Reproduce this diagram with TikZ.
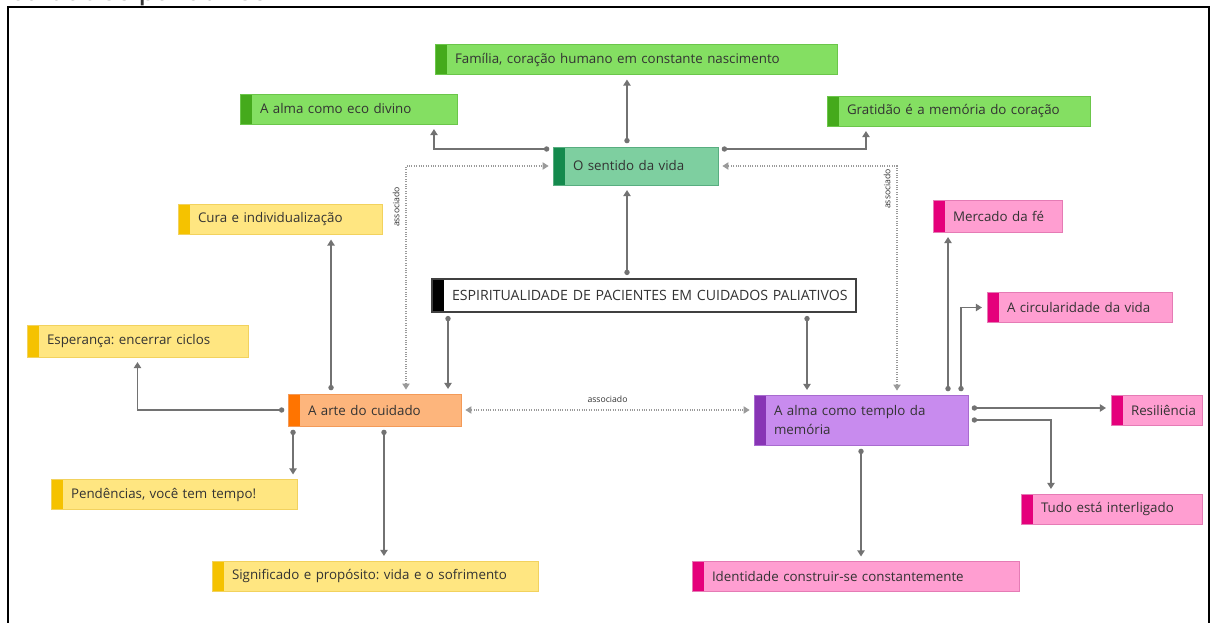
\documentclass[tikz,border=0pt]{standalone}
\usepackage{fontspec}
\setmainfont{Open Sans}
\newfontfamily\titlefont{Carlito}
\frenchspacing
\usetikzlibrary{arrows.meta, positioning}
\definecolor{leafgreen}{HTML}{84DF62}
\definecolor{leafline}{HTML}{6BC64A}
\definecolor{leafdark}{HTML}{45AA1C}
\definecolor{mintfill}{HTML}{7ECFA0}
\definecolor{mintline}{HTML}{58AD80}
\definecolor{mintdark}{HTML}{148A4D}
\definecolor{sunfill}{HTML}{FFE681}
\definecolor{sunline}{HTML}{F2D25E}
\definecolor{sundark}{HTML}{F5C200}
\definecolor{peachfill}{HTML}{FDB57C}
\definecolor{peachline}{HTML}{F39A58}
\definecolor{peachdark}{HTML}{FF7400}
\definecolor{lilacfill}{HTML}{C88BEE}
\definecolor{lilacline}{HTML}{A86BCF}
\definecolor{lilacdark}{HTML}{8834B5}
\definecolor{rosefill}{HTML}{FF9ED1}
\definecolor{roseline}{HTML}{E57BB5}
\definecolor{rosedark}{HTML}{E5007B}
\definecolor{textgray}{HTML}{333333}
\definecolor{linkgray}{HTML}{727272}
\definecolor{assocgray}{HTML}{9A9A9A}
\tikzset{
  topic/.style n args={3}{
    rectangle,
    draw=#2,
    fill=#1,
    line width=0.6pt,
    path picture={\fill[#3] (path picture bounding box.north west) rectangle ([xshift=9pt]path picture bounding box.south west);},
    inner xsep=0pt,
    inner ysep=2pt,
    align=left,
    minimum height=22.5pt,
    font=\fontsize{10}{12}\selectfont,
    text=textgray,
    execute at begin node={\leftskip=15pt\relax}
  },
  greenbox/.style={topic={leafgreen}{leafline}{leafdark}},
  mintbox/.style={topic={mintfill}{mintline}{mintdark}},
  rootbox/.style={topic={white}{black!75}{black}, line width=0.9pt},
  yellowbox/.style={topic={sunfill}{sunline}{sundark}},
  orangebox/.style={topic={peachfill}{peachline}{peachdark}},
  purplebox/.style={topic={lilacfill}{lilacline}{lilacdark}},
  pinkbox/.style={topic={rosefill}{roseline}{rosedark}},
  link/.style={draw=linkgray, line width=0.9pt, {Circle[length=4pt]}-{Triangle[length=4.5pt,width=5.5pt]}, shorten <=2.5pt, shorten >=3.5pt},
  assoc/.style={draw=assocgray, line width=0.8pt, densely dotted, {Triangle[length=4.5pt,width=5.5pt]}-{Triangle[length=4.5pt,width=5.5pt]}, shorten <=3pt, shorten >=3pt},
  note/.style={font=\fontsize{6.5}{8}\selectfont, text=textgray, inner sep=1.5pt}
}

\begin{document}
\begin{tikzpicture}[x=0.75pt,y=-0.75pt]
\useasboundingbox (0,0) rectangle (1216,623);
\clip (0,0) rectangle (1216,623);
\node[anchor=base west, inner sep=0pt, font=\titlefont\fontsize{25}{28}\selectfont, text=textgray] (title) at (10,1) {cuidados paliativos};
\draw[line width=2pt] (8,7) rectangle (1209,640);

\node[greenbox, text width=301.5pt] (familia) at (636,59.5) {Família, coração humano em constante nascimento};
\node[greenbox, text width=162.75pt] (eco) at (348.5,109) {A alma como eco divino};
\node[greenbox, text width=197.25pt] (gratidao) at (958.5,111) {Gratidão é a memória do coração};
\node[mintbox, text width=123.75pt, minimum height=28.5pt] (sentido) at (635.5,166) {O sentido da vida};
\node[rootbox, text width=318pt, minimum height=24.75pt, font=\fontsize{10.6}{12}\selectfont] (raiz) at (644,295.5) {ESPIRITUALIDADE DE PACIENTES EM CUIDADOS PALIATIVOS};
\node[yellowbox, text width=153pt] (cura) at (280,219.5) {Cura e individualização};
\node[yellowbox, text width=165.75pt, minimum height=24pt] (esperanca) at (137.5,341) {Esperança: encerrar ciclos};
\node[orangebox, text width=129.75pt, minimum height=24pt] (arte) at (374.5,410) {A arte do cuidado};
\node[yellowbox, text width=184.5pt] (pendencias) at (174,494.5) {Pendências, você tem tempo!};
\node[yellowbox, text width=244.5pt] (significado) at (375,576) {Significado e propósito: vida e o sofrimento};
\node[purplebox, text width=160.5pt, minimum height=37.5pt, font=\fontsize{10}{14}\selectfont] (templo) at (861,420) {A alma como templo da\\memória};
\node[pinkbox, text width=96.75pt, minimum height=24pt] (mercado) at (997.5,216) {Mercado da fé};
\node[pinkbox, text width=138.75pt] (circularidade) at (1079.5,307.5) {A circularidade da vida};
\node[pinkbox, text width=68.25pt] (resiliencia) at (1156.5,410) {Resiliência};
\node[pinkbox, text width=135.75pt] (tudo) at (1111.5,509) {Tudo está interligado};
\node[pinkbox, text width=245.25pt] (identidade) at (855.5,576.5) {Identidade construir-se constantemente};

% ligacoes
\draw[link] ([xshift=-6.4pt]sentido.north) -- ([xshift=-6.4pt]sentido.north |- familia.south);
\draw[link] ([yshift=12.75pt]sentido.west) -| ([xshift=64.1pt]eco.south);
\draw[link] ([yshift=12.75pt]sentido.east) -| ([xshift=-69.4pt]gratidao.south);
\draw[link] ([xshift=-12.75pt]raiz.north) -- ([xshift=-12.75pt]raiz.north |- sentido.south);
\draw[link] ([xshift=-147pt]raiz.south) -- ([xshift=-147pt]raiz.south |- arte.north);
\draw[link] ([xshift=122.25pt]raiz.south) -- ([xshift=122.25pt]raiz.south |- templo.north);
\draw[link] ([xshift=-32.6pt]arte.north) -- ([xshift=-32.6pt]arte.north |- cura.south);
\draw[link] (arte.west) -| (esperanca.south);
\draw[link] ([xshift=-61.1pt]arte.south) -- ([xshift=-61.1pt]arte.south |- pendencias.north);
\draw[link] ([xshift=7.1pt]arte.south) -- ([xshift=7.1pt]arte.south |- significado.north);
\draw[link] ([xshift=65.25pt]templo.north) -- ([xshift=65.25pt]templo.north |- mercado.south);
\draw[link] ([xshift=75pt]templo.north) |- (circularidade.west);
\draw[link] ([yshift=9pt]templo.east) -- ([yshift=9pt]templo.east -| resiliencia.west);
\draw[link] (templo.east) -| ([xshift=-45.4pt]tudo.north);
\draw[link] (templo.south) -- (templo.south |- identidade.north);

% associacoes
\draw[assoc] (arte.east) -- node[note, above=4pt] {associado} (arte.east -| templo.west);
\draw[assoc] ([xshift=23.6pt]arte.north) |- node[note, sloped, above=3pt, pos=0.41] {associado} (sentido.west);
\draw[assoc] ([xshift=27pt]templo.north) |- node[note, sloped, above=3pt, pos=0.45] {associado} (sentido.east);
\end{tikzpicture}
\end{document}
